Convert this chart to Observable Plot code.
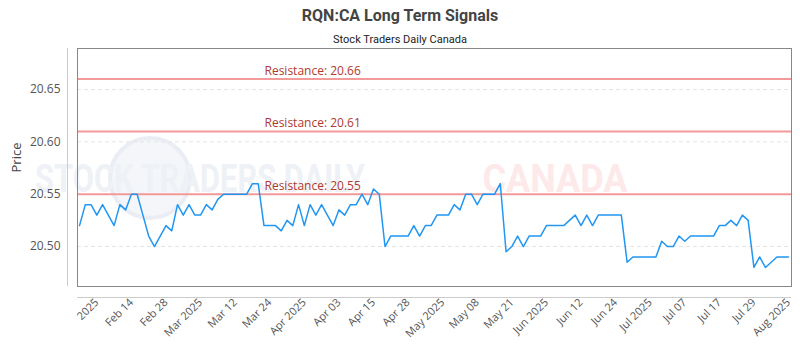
<!DOCTYPE html>
<html><head><meta charset="utf-8">
<script src="https://cdn.jsdelivr.net/npm/d3@7"></script>
<script src="https://cdn.jsdelivr.net/npm/@observablehq/plot@0.6"></script>
<style>
body{margin:0;background:#fff;}
#wrap{width:800px;position:relative;}
#head{height:44px;position:relative;z-index:2;}
#title{position:absolute;left:0;right:0;top:6px;text-align:center;font:bold 16px Roboto,sans-serif;color:#444;line-height:20px;}
#sub{position:absolute;left:0;right:0;top:33px;text-align:center;font:11px Roboto,sans-serif;color:#222;line-height:14px;}
</style></head><body>
<div id="wrap">
<div id="head"><div id="title">RQN:CA Long Term Signals</div><div id="sub">Stock Traders Daily Canada</div></div>
<div id="chart"></div>
</div>
<script>
const prices = [
20.52,20.54,20.54,20.53,20.54,20.53,20.52,20.54,20.535,20.55,
20.55,20.53,20.51,20.50,20.51,20.52,20.515,20.54,20.53,20.54,
20.53,20.53,20.54,20.535,20.545,20.55,20.55,20.55,20.55,20.55,
20.56,20.56,20.52,20.52,20.52,20.515,20.525,20.52,20.54,20.52,
20.54,20.53,20.54,20.53,20.52,20.535,20.53,20.54,20.54,20.55,
20.54,20.555,20.55,20.50,20.51,20.51,20.51,20.51,20.52,20.51,
20.52,20.52,20.53,20.53,20.53,20.54,20.535,20.55,20.55,20.54,
20.55,20.55,20.55,20.56,20.495,20.50,20.51,20.50,20.51,20.51,
20.51,20.52,20.52,20.52,20.52,20.525,20.53,20.52,20.53,20.52,
20.53,20.53,20.53,20.53,20.53,20.485,20.49,20.49,20.49,20.49,
20.49,20.505,20.50,20.50,20.51,20.505,20.51,20.51,20.51,20.51,
20.51,20.52,20.52,20.525,20.52,20.53,20.525,20.48,20.49,20.48,
20.485,20.49,20.49,20.49
];
const resistance = [20.66, 20.61, 20.55];
const yTicks = [20.50, 20.55, 20.60, 20.65];
const tickLabels = ["2025","Feb 14","Feb 28","Mar 2025","Mar 12","Mar 24","Apr 2025","Apr 03","Apr 15","Apr 28","May 2025","May 08","May 21","Jun 2025","Jun 12","Jun 24","Jul 2025","Jul 07","Jul 17","Jul 29","Aug 2025"];
const tickIndex = [3,9,15,21,27,33,39,45,51,57,63,69,75,81,87,93,99,105,111,117,123];
const yLabel = "Price";

const xDomain = [-0.35, 123.52];
const yDomain = [20.4618, 20.6892];

const chart = Plot.plot({
  width: 800, height: 306,
  marginTop: 4, marginRight: 9, marginBottom: 64, marginLeft: 77,
  style: {background: "transparent", fontFamily: "'Open Sans', sans-serif", fontSize: "11px", color: "#555"},
  x: {domain: xDomain},
  y: {domain: yDomain},
  marks: [
    Plot.gridY(yTicks, {stroke: "#e4e4e4", strokeOpacity: 1, strokeDasharray: "4,3"}),
    Plot.ruleY(resistance, {stroke: "#f29a9a", strokeWidth: 2}),
    Plot.text(resistance, {y: d => d, text: d => "Resistance: " + d.toFixed(2), frameAnchor: "left", dx: 187, dy: -8, textAnchor: "start", fill: "#b03a2e", fontSize: 12}),
    Plot.lineY(prices, {x: (d, i) => i, y: d => d, stroke: "#2196f3", strokeWidth: 1.5}),
    Plot.frame({stroke: "#888"}),
    Plot.ruleX([xDomain[0]], {dx: -10, stroke: "#ccc"}),
    Plot.ruleY([yDomain[0]], {dy: 11, stroke: "#ccc"}),
    Plot.axisY(yTicks, {tickFormat: d => d.toFixed(2), tickSize: 0, tickPadding: 17, fontSize: 12, fill: "#555", label: null}),
    Plot.text([yLabel], {text: d => d, frameAnchor: "left", dx: -61, dy: 5, rotate: -90, fontSize: 13, fill: "#444"}),
    Plot.axisX(tickIndex, {tickFormat: d => tickLabels[tickIndex.indexOf(d)], tickRotate: -45, tickSize: 0, tickPadding: 14, fontSize: 11, fill: "#555", label: null})
  ]
});
document.getElementById("chart").appendChild(chart);

// faint watermark behind the data
const svg = d3.select(chart);
const wm = svg.insert("g", "g").attr("pointer-events", "none");
wm.append("circle").attr("cx", 150).attr("cy", 134).attr("r", 40).attr("fill", "#f4f6fa").attr("stroke", "#eaeef4").attr("stroke-width", 4);
wm.append("text").attr("x", 200).attr("y", 148).attr("textLength", 330).attr("lengthAdjust", "spacingAndGlyphs")
  .attr("font-family", "Roboto, sans-serif").attr("font-weight", "bold").attr("font-size", 38).attr("fill", "#eef1f5").text("STOCK TRADERS DAILY");
wm.append("text").attr("x", 555).attr("y", 148).attr("textLength", 145).attr("lengthAdjust", "spacingAndGlyphs")
  .attr("font-family", "Roboto, sans-serif").attr("font-weight", "bold").attr("font-size", 38).attr("fill", "#fde9e9").text("CANADA");
</script>
</body></html>
